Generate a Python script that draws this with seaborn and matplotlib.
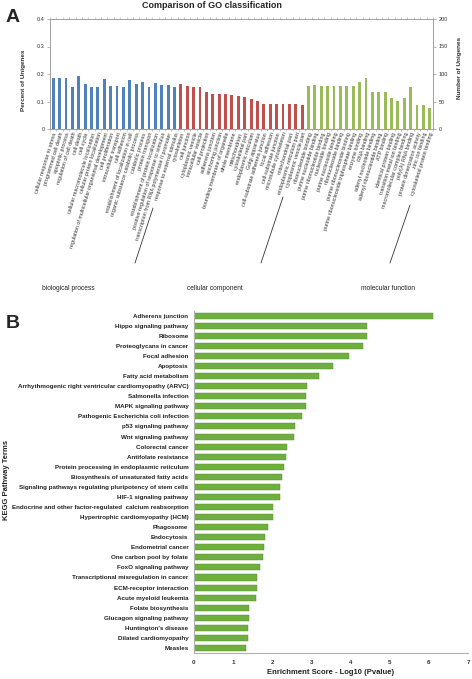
import matplotlib
matplotlib.use("Agg")
import matplotlib.pyplot as plt
import seaborn as sns
import pandas as pd
from matplotlib.lines import Line2D

sns.set_theme(style="white")
plt.rcParams['font.family'] = ['Liberation Sans', 'DejaVu Sans']

# ---------------- Panel A data ----------------
bp_terms = ["cellular response to stress", "programmed cell death", "apoptotic process",
            "regulation of cell death", "cell death", "cell cycle",
            "cellular macromolecule localization", "cellular protein localization",
            "regulation of multicellular organismal development", "cell proliferation",
            "intracellular transport", "cell adhesion", "establishment of localization in cell",
            "organic substance catabolic process", "catabolic process", "protein transport",
            "establishment of protein localization", "positive regulation of response to stimulus",
            "transcription from RNA polymerase II promoter", "response to external stimulus"]
bp_pct = [0.187, 0.187, 0.185, 0.151, 0.193, 0.163, 0.154, 0.152, 0.182, 0.157,
          0.155, 0.151, 0.177, 0.165, 0.171, 0.154, 0.166, 0.161, 0.161, 0.154]

cc_terms = ["cytoskeleton", "cell junction", "cytoplasmic vesicle", "intracellular vesicle",
            "cell projection", "adherens junction", "anchoring junction",
            "bounding membrane of organelle", "whole membrane", "mitochondrion",
            "cytoskeletal part", "endoplasmic reticulum", "Golgi apparatus",
            "cell-substrate adherens junction", "focal adhesion", "cell-substrate junction",
            "microtubule cytoskeleton", "mitochondrial part", "endoplasmic reticulum part",
            "cytoplasmic vesicle part"]
cc_pct = [0.163, 0.157, 0.151, 0.151, 0.134, 0.129, 0.129, 0.126, 0.124, 0.120,
          0.115, 0.109, 0.102, 0.090, 0.090, 0.090, 0.090, 0.090, 0.090, 0.087]

mf_terms = ["ribonucleotide binding", "purine nucleotide binding", "purine ribonucleotide binding",
            "nucleoside binding", "purine nucleoside binding", "ribonucleoside binding",
            "purine ribonucleoside binding", "purine ribonucleoside triphosphate binding",
            "enzyme binding", "RNA binding", "adenyl nucleotide binding",
            "adenyl ribonucleotide binding", "ATP binding", "identical protein binding",
            "transition metal ion binding", "macromolecular complex binding",
            "poly(A) RNA binding", "protein dimerization activity", "zinc ion binding",
            "cytoskeletal protein binding"]
mf_pct = [0.157, 0.159, 0.157, 0.157, 0.157, 0.157, 0.157, 0.157, 0.172, 0.187,
          0.134, 0.134, 0.134, 0.112, 0.102, 0.112, 0.151, 0.089, 0.089, 0.077]

group_names = ["biological process", "cellular component", "molecular function"]
group_colors = ["#4F81BD", "#C0504D", "#9BBB59"]
pct_ticks = [0, 0.1, 0.2, 0.3, 0.4]
num_ticks = [0, 50, 100, 150, 200]

# ---------------- Panel B data ----------------
kegg_terms = ["Adherens junction", "Hippo signaling pathway", "Ribosome", "Proteoglycans in cancer",
              "Focal adhesion", "Apoptosis", "Fatty acid metabolism",
              "Arrhythmogenic right ventricular cardiomyopathy (ARVC)", "Salmonella infection",
              "MAPK signaling pathway", "Pathogenic Escherichia coli infection",
              "p53 signaling pathway", "Wnt signaling pathway", "Colorectal cancer",
              "Antifolate resistance", "Protein processing in endoplasmic reticulum",
              "Biosynthesis of unsaturated fatty acids",
              "Signaling pathways regulating pluripotency of stem cells",
              "HIF-1 signaling pathway", "Endocrine and other factor-regulated  calcium reabsorption",
              "Hypertrophic cardiomyopathy (HCM)", "Phagosome", "Endocytosis",
              "Endometrial cancer", "One carbon pool by folate", "FoxO signaling pathway",
              "Transcriptional misregulation in cancer", "ECM-receptor interaction",
              "Acute myeloid leukemia", "Folate biosynthesis", "Glucagon signaling pathway",
              "Huntington's disease", "Dilated cardiomyopathy", "Measles"]
kegg_score = [6.11, 4.42, 4.42, 4.32, 3.95, 3.54, 3.19, 2.88, 2.85, 2.85, 2.75, 2.58, 2.56,
              2.38, 2.35, 2.29, 2.26, 2.20, 2.19, 2.02, 2.01, 1.88, 1.82, 1.79, 1.76, 1.69,
              1.62, 1.60, 1.58, 1.41, 1.41, 1.39, 1.37, 1.32]
kegg_ticks = [0, 1, 2, 3, 4, 5, 6, 7]

W, H = 472, 679
fig = plt.figure(figsize=(W / 100, H / 100), dpi=100)

def fx(px):
    return px / W

def fy(py):
    return 1 - py / H

# ---------------- Panel A ----------------
groups_col = ([group_names[0]] * len(bp_terms) + [group_names[1]] * len(cc_terms)
              + [group_names[2]] * len(mf_terms))
go_df = pd.DataFrame({
    "term": bp_terms + cc_terms + mf_terms,
    "pct": bp_pct + cc_pct + mf_pct,
    "group": groups_col,
})
color_of = dict(zip(group_names, group_colors))
bar_palette = {t: color_of[g] for t, g in zip(go_df["term"], go_df["group"])}

axA = fig.add_axes([fx(50), fy(129), fx(433) - fx(50), fy(19) - fy(129)])
sns.barplot(data=go_df, x="term", y="pct", hue="term", palette=bar_palette,
            width=0.45, ax=axA, legend=False, saturation=1, linewidth=0)
axA.set_ylim(0, 0.4)
axA.set_yticks(pct_ticks)
axA.set_yticklabels([f"{t:g}" for t in pct_ticks], fontsize=4, color="#333333")
axA.set_xlim(-0.5, len(go_df) - 0.5)
axA.set_xticks(range(len(go_df)))
axA.set_xticklabels(go_df["term"], rotation=73, ha="right", rotation_mode="anchor",
                    fontsize=3.9, color="#333333")
axA.tick_params(axis="x", length=0, pad=2)
axA.tick_params(axis="y", length=2, width=0.5, color="#999999", pad=2)
for s in axA.spines.values():
    s.set_color("#A0A0A0")
    s.set_linewidth(0.6)
axA.set_xlabel("")
axA.set_ylabel("")
axA.set_xticks([i + 0.5 for i in range(-1, len(go_df))], minor=True)
axA.tick_params(axis="x", which="minor", length=1.5, width=0.4, color="#999999",
                top=True, bottom=True)

axA2 = axA.twinx()
axA2.set_ylim(0, 200)
axA2.set_yticks(num_ticks)
axA2.set_yticklabels([str(t) for t in num_ticks], fontsize=4, color="#333333")
axA2.tick_params(axis="y", length=2, width=0.5, color="#999999", pad=2)
for s in axA2.spines.values():
    s.set_color("#A0A0A0")
    s.set_linewidth(0.6)
axA2.grid(False)

fig.text(fx(212), fy(6), "Comparison of GO classification", ha="center", va="center",
         fontsize=6.5, fontweight="bold")
fig.text(fx(13), fy(18), "A", ha="center", va="center", fontsize=14, fontweight="bold")
fig.text(fx(23), fy(80), "Percent of Unigenes", rotation=90, ha="center", va="center",
         fontsize=4.6, fontweight="bold", color="#333333")
fig.text(fx(460), fy(68), "Number of Unigenes", rotation=90, ha="center", va="center",
         fontsize=4.6, fontweight="bold", color="#333333")

# group separators and names
line_kw = dict(color="#333333", linewidth=0.6, transform=fig.transFigure)
for (x0, y0, x1, y1) in [(153, 208, 135, 263), (283, 197, 261, 263), (410, 205, 390, 263)]:
    fig.add_artist(Line2D([fx(x0), fx(x1)], [fy(y0), fy(y1)], **line_kw))
for xc, name in zip([68, 215, 388], group_names):
    fig.text(fx(xc), fy(288), name, ha="center", va="center", fontsize=4.8, color="#222222")

# ---------------- Panel B ----------------
kegg_df = pd.DataFrame({"term": kegg_terms, "score": kegg_score})
axB = fig.add_axes([fx(194), fy(653), fx(468) - fx(194), fy(310.7) - fy(653)])
sns.barplot(data=kegg_df, y="term", x="score", orient="h", color="#6FAF3E", width=0.6,
            saturation=1, edgecolor="#4E8A2A", linewidth=0.3, ax=axB)
axB.set_xlim(0, 7)
axB.set_xticks(kegg_ticks)
axB.set_xticklabels([str(t) for t in kegg_ticks], fontsize=4.5, fontweight="bold",
                    color="#333333")
axB.set_yticks(range(len(kegg_terms)))
axB.set_yticklabels(kegg_terms, fontsize=4.5, fontweight="bold", color="#222222")
axB.tick_params(axis="y", length=0, pad=4)
axB.tick_params(axis="x", length=0, pad=5)
for side in ["top", "right"]:
    axB.spines[side].set_visible(False)
for side in ["left", "bottom"]:
    axB.spines[side].set_color("#B0B0B0")
    axB.spines[side].set_linewidth(0.8)
axB.set_ylabel("")
axB.set_xlabel("Enrichment Score - Log10 (Pvalue)", fontsize=5.5, fontweight="bold",
               color="#222222", labelpad=3)

fig.text(fx(13), fy(323), "B", ha="center", va="center", fontsize=14, fontweight="bold")
fig.text(fx(7), fy(480), "KEGG Pathway Terms", rotation=90, ha="center", va="center",
         fontsize=5.5, fontweight="bold", color="#222222")

fig.savefig("out.png", dpi=100)
